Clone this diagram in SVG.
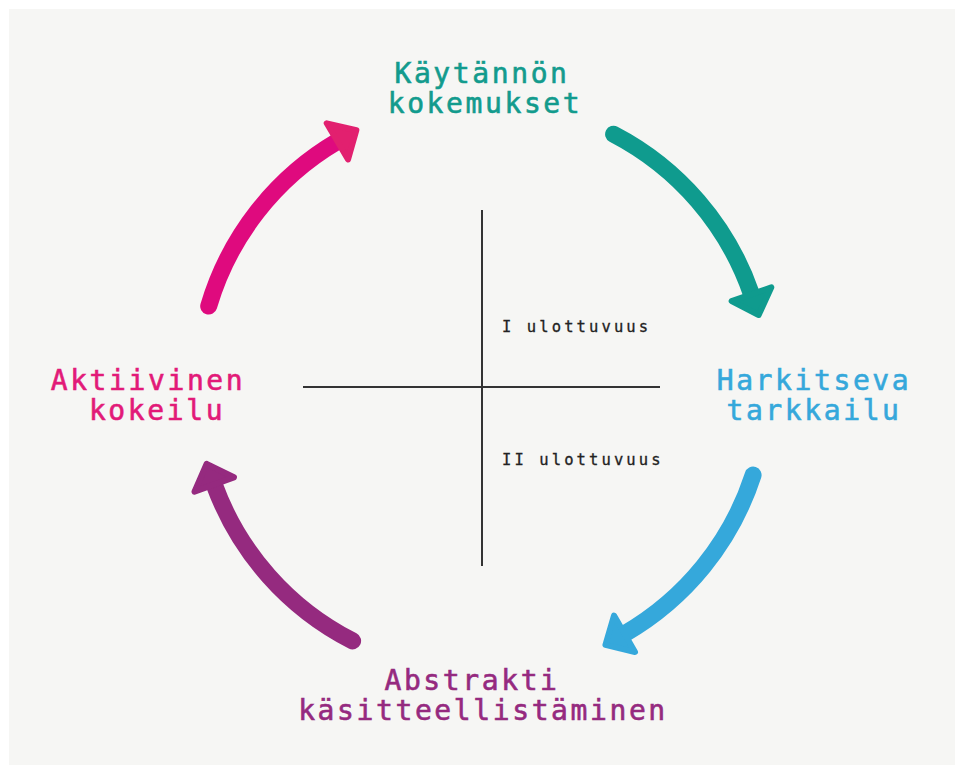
<svg xmlns="http://www.w3.org/2000/svg" width="955" height="765" viewBox="0 0 955 765">
<style>
.lbl{font-family:"DejaVu Sans Mono","Liberation Mono",monospace;font-size:28px;letter-spacing:2.6px;text-anchor:middle;stroke-width:0.6px}
.small{font-family:"DejaVu Sans Mono","Liberation Mono",monospace;font-size:15.5px;letter-spacing:3.1px;fill:#222;stroke:#222;stroke-width:0.3px}
.arc{fill:none;stroke-width:17;stroke-linecap:round}
.axis{stroke:#333;stroke-width:2}
</style>
<defs>
<marker id="hTeal" markerUnits="userSpaceOnUse" orient="auto" refX="0" refY="0" markerWidth="60" markerHeight="60" viewBox="-5 -30 40 60" overflow="visible">
<path d="M0,-21 L22,0 L0,21 Z" fill="#0f9b8e" stroke="#0f9b8e" stroke-width="6" stroke-linejoin="round"/>
</marker>
<marker id="hBlue" markerUnits="userSpaceOnUse" orient="auto" refX="0" refY="0" markerWidth="60" markerHeight="60" viewBox="-5 -30 40 60" overflow="visible">
<path d="M0,-21 L22,0 L0,21 Z" fill="#35a8db" stroke="#35a8db" stroke-width="6" stroke-linejoin="round"/>
</marker>
<marker id="hPurple" markerUnits="userSpaceOnUse" orient="auto" refX="0" refY="0" markerWidth="60" markerHeight="60" viewBox="-5 -30 40 60" overflow="visible">
<path d="M0,-21 L22,0 L0,21 Z" fill="#952a7f" stroke="#952a7f" stroke-width="6" stroke-linejoin="round"/>
</marker>
<marker id="hMagenta" markerUnits="userSpaceOnUse" orient="auto" refX="0" refY="0" markerWidth="60" markerHeight="60" viewBox="-5 -30 40 60" overflow="visible">
<path d="M0,-21 L22,0 L0,21 Z" fill="#e2206f" stroke="#e2206f" stroke-width="6" stroke-linejoin="round"/>
</marker>
</defs>
<rect x="0" y="0" width="955" height="765" fill="#ffffff"/>
<rect x="9" y="9" width="946" height="756" fill="#f6f6f4"/>

<g id="axes">
<line class="axis" x1="482" y1="210" x2="482" y2="566"/>
<line class="axis" x1="303" y1="387" x2="660" y2="387"/>
<text class="small" x="502" y="332">I ulottuvuus</text>
<text class="small" x="502" y="465">II ulottuvuus</text>
</g>

<g id="connectors">
<path class="arc" stroke="#0f9b8e" d="M613.6,134.2 A285,285 0 0 1 751.5,294.2" marker-end="url(#hTeal)"/>
<path class="arc" stroke="#35a8db" d="M753.1,475.1 A285,285 0 0 1 624.5,633.8" marker-end="url(#hBlue)"/>
<path class="arc" stroke="#952a7f" d="M352.6,640.9 A285,285 0 0 1 214.2,484.5" marker-end="url(#hPurple)"/>
<path class="arc" stroke="#df0a7e" d="M208.7,306.1 A285,285 0 0 1 337.4,141.4" marker-end="url(#hMagenta)"/>
</g>

<g id="node-kaytannon">
<text class="lbl" fill="#129b8d" stroke="#129b8d" x="482" y="83">Käytännön</text>
<text class="lbl" fill="#129b8d" stroke="#129b8d" x="485" y="113">kokemukset</text>
</g>
<g id="node-harkitseva">
<text class="lbl" fill="#35a8db" stroke="#35a8db" x="814" y="390">Harkitseva</text>
<text class="lbl" fill="#35a8db" stroke="#35a8db" x="814" y="420">tarkkailu</text>
</g>
<g id="node-abstrakti">
<text class="lbl" fill="#952a7f" stroke="#952a7f" x="472" y="690">Abstrakti</text>
<text class="lbl" fill="#952a7f" stroke="#952a7f" x="483" y="720">käsitteellistäminen</text>
</g>
<g id="node-aktiivinen">
<text class="lbl" fill="#e21a78" stroke="#e21a78" x="148" y="390">Aktiivinen</text>
<text class="lbl" fill="#e21a78" stroke="#e21a78" x="157" y="420">kokeilu</text>
</g>
</svg>
